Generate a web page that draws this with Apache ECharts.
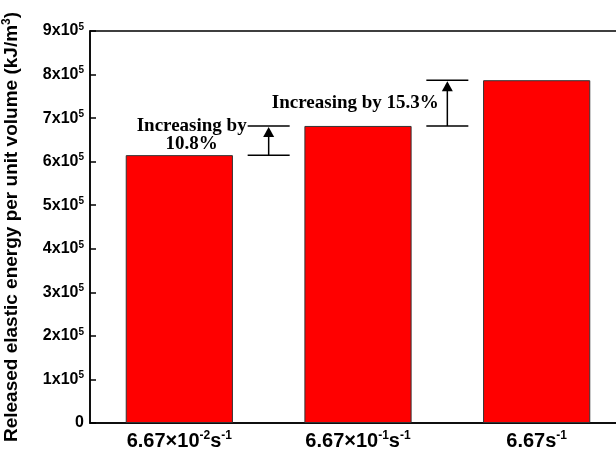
<!DOCTYPE html>
<html>
<head>
<meta charset="utf-8">
<script src="https://cdn.jsdelivr.net/npm/echarts@6/dist/echarts.min.js"></script>
<style>
  html, body { margin: 0; padding: 0; background: #fff; }
  #chart { width: 616px; height: 455px; }
</style>
</head>
<body>
<div id="chart"></div>
<script>
// Strain-rate categories (rich-text markup gives the superscripts)
const categories = [
  '{b|6.67×10}{sup|-2}{b|s}{sup|-1}',
  '{b|6.67×10}{sup|-1}{b|s}{sup|-1}',
  '{b|6.67s}{sup|-1}'
];
// Released elastic energy per unit volume, kJ/m³
const energy = [6.15e5, 6.82e5, 7.87e5];
// Increase between neighbouring strain rates, %
const increases = ['10.8%', '15.3%'];
// Y axis range
const yMin = 0, yMax = 9e5, yStep = 1e5;

const sansFont = '"Liberation Sans", Arial, sans-serif';
const serifFont = '"Liberation Serif", "Times New Roman", serif';

const supStyle = { fontSize: 10, fontWeight: 'bold', fontFamily: sansFont, color: '#000', verticalAlign: 'bottom', padding: [0, 0, 8, 0] };

// bracket pairs: [from category, to category, label]
const brackets = increases.map((p, i) => [i, i + 1, p]);

const chart = echarts.init(document.getElementById('chart'), null, { renderer: 'canvas' });

chart.setOption({
  animation: false,
  grid: {
    left: 90, width: 536, top: 31, height: 392,
    outerBoundsMode: 'none',
    containLabel: false,
    show: true, borderColor: '#000', borderWidth: 1.5, backgroundColor: 'transparent'
  },
  xAxis: {
    type: 'category',
    data: categories,
    axisLine: { lineStyle: { color: '#000', width: 1.5 } },
    axisTick: { inside: true, length: 5, lineStyle: { color: '#000', width: 1.5 } },
    axisLabel: {
      margin: 7,
      interval: 0,
      formatter: v => v,
      rich: {
        b: { fontSize: 20, fontWeight: 'bold', fontFamily: sansFont, color: '#000' },
        sup: Object.assign({}, supStyle, { fontSize: 12, padding: [0, 0, 10, 0] })
      }
    }
  },
  yAxis: {
    type: 'value',
    min: yMin, max: yMax, interval: yStep,
    name: 'Released elastic energy per unit volume (kJ/m{sup|3})',
    nameLocation: 'middle',
    nameGap: 67,
    nameRotate: 90,
    nameTextStyle: {
      fontSize: 19, fontWeight: 'bold', fontFamily: sansFont, color: '#000',
      rich: {
        sup: Object.assign({}, supStyle, { fontSize: 12, padding: [0, 0, 10, 0] })
      }
    },
    splitLine: { show: false },
    axisLine: { show: true, lineStyle: { color: '#000', width: 1.5 } },
    axisTick: { show: true, inside: true, length: 6, lineStyle: { color: '#000', width: 1.5 } },
    axisLabel: {
      margin: 6,
      formatter: v => v === 0 ? '{b|0}' : '{b|' + Math.round(v / 1e5) + 'x10}{sup|5}',
      rich: {
        b: { fontSize: 16, fontWeight: 'bold', fontFamily: sansFont, color: '#000' },
        sup: supStyle
      }
    }
  },
  series: [
    {
      type: 'bar',
      data: energy,
      barWidth: '60%',
      itemStyle: { color: '#ff0000', borderColor: '#333', borderWidth: 1 }
    },
    {
      type: 'custom',
      data: brackets,
      z: 5,
      renderItem: (params, api) => {
        const a = api.value(0), b = api.value(1);
        const lowA = api.coord([a, energy[a]]);
        const lowB = api.coord([b, energy[b]]);
        const xMid = (lowA[0] + lowB[0]) / 2;
        const yLow = lowA[1], yHigh = lowB[1];
        const half = 21;
        const ls = { stroke: '#000', lineWidth: 1.5 };
        const children = [
          { type: 'line', shape: { x1: xMid - half, y1: yLow, x2: xMid + half, y2: yLow }, style: ls },
          { type: 'line', shape: { x1: xMid - half, y1: yHigh, x2: xMid + half, y2: yHigh }, style: ls },
          { type: 'line', shape: { x1: xMid, y1: yLow, x2: xMid, y2: yHigh + 8 }, style: ls },
          { type: 'polygon', shape: { points: [[xMid, yHigh + 1], [xMid - 5.5, yHigh + 11], [xMid + 5.5, yHigh + 11]] }, style: { fill: '#000' } }
        ];
        const label = brackets[params.dataIndex][2];
        const textStyleBase = {
          fill: '#000', fontFamily: serifFont, fontWeight: 'bold', fontSize: 19,
          textAlign: 'center', textVerticalAlign: 'middle', lineHeight: 18
        };
        if (params.dataIndex === 0) {
          children.push({ type: 'text', style: Object.assign({}, textStyleBase, { text: 'Increasing by\n' + label, x: xMid - 77, y: (yLow + yHigh) / 2 - 5 }) });
        } else {
          children.push({ type: 'text', style: Object.assign({}, textStyleBase, { text: 'Increasing by ' + label, x: xMid - 92, y: (yLow + yHigh) / 2 }) });
        }
        return { type: 'group', children };
      }
    }
  ]
});
</script>
</body>
</html>
